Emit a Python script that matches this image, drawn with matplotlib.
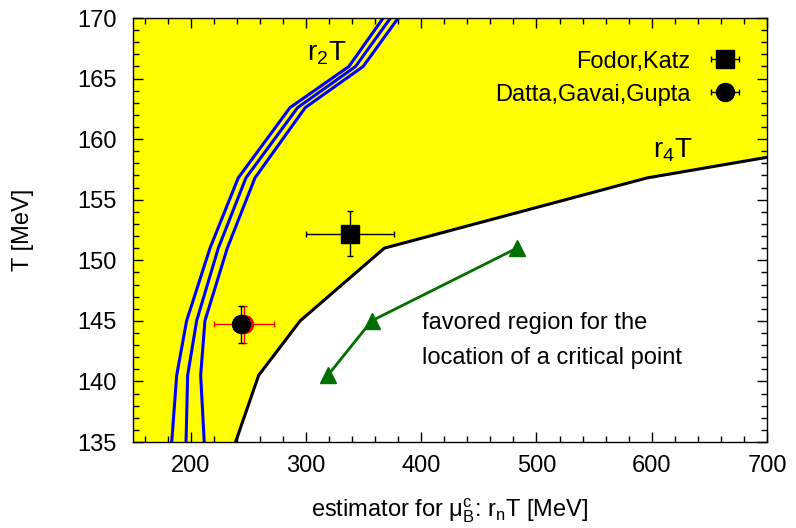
import matplotlib
matplotlib.use("Agg")
import matplotlib.pyplot as plt
from matplotlib.legend_handler import HandlerErrorbar
from matplotlib.ticker import MultipleLocator

plt.rcParams['font.family'] = ['Liberation Sans', 'DejaVu Sans']
plt.rcParams['mathtext.default'] = 'regular'

# temperature grid shared by the estimator curves [MeV]
T_grid = [135.0, 140.5, 145.0, 151.0, 156.8, 162.6, 166.0, 170.0]

# r_2 T estimator: central curve and its error band [MeV]
r2_mid = [196.0, 197.4, 205.2, 224.0, 248.0, 292.8, 343.1, 373.4]
r2_low = [183.6, 187.9, 196.5, 216.8, 241.3, 286.2, 337.3, 367.1]
r2_high = [211.8, 208.7, 212.4, 231.8, 255.8, 299.4, 349.7, 380.1]

# r_4 T estimator (boundary of the shaded region)
r4_x = [239.0, 259.0, 295.0, 368.0, 596.0, 700.0]
r4_T = [135.0, 140.5, 145.0, 151.0, 156.8, 158.5]

# green estimator points
g_x = [319.0, 357.0, 483.0]
g_T = [140.5, 145.0, 151.0]

# lattice results
fk_x, fk_T, fk_xerr, fk_Terr = 338.2, 152.2, 38.3, 1.85
dgg_x, dgg_T, dgg_Terr = 243.4, 144.7, 1.55
dgg2_x, dgg2_T, dgg2_xerr, dgg2_Terr = 246.5, 144.7, 26.0, 1.55

x_lim = (150, 700)
T_lim = (135, 170)
x_ticks = [200, 300, 400, 500, 600, 700]
T_ticks = [135, 140, 145, 150, 155, 160, 165, 170]

fig = plt.figure(figsize=(7.96, 5.28), dpi=100)
ax = fig.add_axes([133 / 796, 1 - 442 / 528, 634 / 796, 424 / 528])

# shaded region above/left of r_4 T
poly_x = [x_lim[0]] + r4_x + [x_lim[1], x_lim[0]]
poly_T = [T_lim[0]] + r4_T + [T_lim[1], T_lim[1]]
ax.fill(poly_x, poly_T, color='#ffff00', lw=0, zorder=0)

ax.plot(r4_x, r4_T, color='black', lw=2.2, zorder=2)

for xs in (r2_low, r2_mid, r2_high):
    ax.plot(xs, T_grid, color='#0000ff', lw=2.2, zorder=2)

ax.plot(g_x, g_T, color='#006f00', lw=2.0, marker='^', ms=11, zorder=3)

ax.errorbar([dgg2_x], [dgg2_T], xerr=[dgg2_xerr], yerr=[dgg2_Terr], fmt='o',
            color='red', ms=13, elinewidth=1, capsize=2.5, capthick=1, zorder=4)
eb_fk = ax.errorbar([fk_x], [fk_T], xerr=[fk_xerr], yerr=[fk_Terr], fmt='s',
                    color='black', ms=13, elinewidth=1, capsize=2.5, capthick=1,
                    zorder=5, label='Fodor,Katz')
eb_dgg = ax.errorbar([dgg_x], [dgg_T], xerr=[0.0], yerr=[dgg_Terr], fmt='o',
                     color='black', ms=13, elinewidth=1, capsize=2.5, capthick=1,
                     zorder=5, label='Datta,Gavai,Gupta')

ax.text(301, 166.5, 'r$_2$T', fontsize=20, ha='left', va='baseline')
ax.text(601, 158.5, 'r$_4$T', fontsize=20, ha='left', va='baseline')
ax.text(400.4, 144.3, 'favored region for the', fontsize=17, ha='left', va='baseline')
ax.text(400.4, 141.4, 'location of a critical point', fontsize=17, ha='left', va='baseline')

ax.set_xlim(*x_lim)
ax.set_ylim(*T_lim)
ax.set_xticks(x_ticks)
ax.set_yticks(T_ticks)
ax.xaxis.set_minor_locator(MultipleLocator(20))
ax.yaxis.set_minor_locator(MultipleLocator(1))
ax.tick_params(which='both', direction='in', top=True, right=True, labelsize=17, width=1)
ax.tick_params(which='major', length=7)
ax.tick_params(which='minor', length=4)
ax.tick_params(axis='x', which='major', pad=9.5)
ax.tick_params(axis='y', which='major', pad=12)
for sp in ax.spines.values():
    sp.set_linewidth(1)

ax.set_xlabel('estimator for $μ_B^c$: r$_n$T [MeV]', fontsize=17, labelpad=14)
ax.set_ylabel('T [MeV]', fontsize=17, labelpad=31)

leg = ax.legend(handles=[eb_fk, eb_dgg], loc='upper right', bbox_to_anchor=(0.9637, 0.923),
                frameon=False, markerfirst=False, fontsize=17, borderpad=0, borderaxespad=0,
                handlelength=1.6, handletextpad=0.68, labelspacing=0.46,
                handler_map={type(eb_fk): HandlerErrorbar(xerr_size=0.6, yerr_size=0.0)})

fig.savefig('out.png', dpi=100)
